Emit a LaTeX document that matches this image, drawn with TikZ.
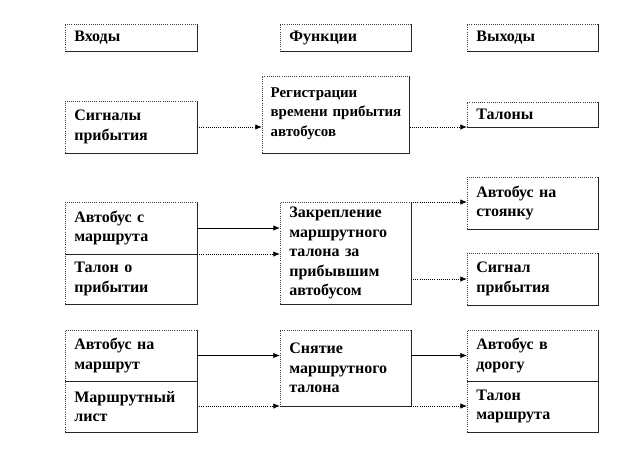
\documentclass[tikz,border=0pt]{standalone}
\usepackage{fontspec}
\setmainfont{Liberation Serif}
\usetikzlibrary{arrows.meta}
\begin{document}
\begin{tikzpicture}[x=0.75pt,y=-0.75pt,
  bx/.style 2 args={draw=black!75, densely dotted, line width=0.6pt, anchor=north west,
    inner xsep=7pt, inner ysep=0pt, outer sep=0pt, text width=#1, minimum height=#2,
    align=left, font=\bfseries\fontsize{12}{14.6}\selectfont},
  edge/.style={draw=black!85, solid, line width=0.6pt},
  sarr/.style={-{Latex[length=5pt,width=4pt]}, black, line width=0.6pt},
  darr/.style={sarr, densely dotted}]
\useasboundingbox (0,0) rectangle (635,457);
% headers
\node[bx={85pt}{20.25pt}] (inh) at (65,24) {Входы};
\node[bx={84.25pt}{20.25pt}] (fnh) at (280,24) {Функции};
\node[bx={84.25pt}{20.25pt}] (outh) at (467,24) {Выходы};
% row 1
\node[bx={97.75pt}{57.75pt}, inner xsep=6.5pt, font=\bfseries\fontsize{11.2}{14.6}\selectfont] (reg) at (262,76) {\\[-9pt]Регистрации\\\mbox{времени прибытия}\\автобусов};
\node[bx={85pt}{39pt}] (sig) at (65,101) {Сигналы прибытия};
\node[bx={84.25pt}{18.75pt}] (tal) at (467,102) {Талоны};
% row 2
\node[bx={85pt}{39pt}] (avm) at (65,202) {Автобус с маршрута};
\node[bx={85pt}{37.5pt}] (tpr) at (65,254) {Талон о прибытии};
\node[bx={84.25pt}{76.5pt}] (zak) at (280,202) {Закрепление маршрутного талона за прибывшим автобусом};
\node[bx={84.25pt}{39pt}] (sto) at (467,177) {Автобус на стоянку};
\node[bx={84.25pt}{39pt}] (sgn) at (467,253) {Сигнал прибытия};
% row 3
\node[bx={85pt}{38.25pt}] (anm) at (65,330) {Автобус на маршрут};
\node[bx={85pt}{38.25pt}] (mls) at (65,381) {Маршрутный лист};
\node[bx={84.25pt}{57pt}] (snt) at (280,330) {Снятие маршрутного талона\\[2pt]};
\node[bx={84.25pt}{38.25pt}] (adr) at (467,330) {Автобус в дорогу};
\node[bx={84.25pt}{38.25pt}] (tmr) at (467,381) {Талон маршрута};
% solid right and bottom edges
\foreach \n in {inh,fnh,outh,sig,reg,tal,avm,tpr,zak,sto,sgn,anm,mls,snt,adr,tmr}
  \draw[edge] (\n.north east) -- (\n.south east) -- (\n.south west);
% connectors
\draw[darr] (sig.east) -- (reg.west |- sig.east);
\draw[darr] (reg.east |- tal.south west) -- (tal.south west);
\draw[sarr] (avm.east) -- (zak.west |- avm.east);
\draw[darr] (tpr.north east) -- (zak.west |- tpr.north east);
\draw[darr] (zak.north east) -- (sto.west |- zak.north east);
\draw[darr] (zak.east |- sgn.west) -- (sgn.west);
\draw[sarr] (anm.east) -- (snt.west |- anm.east);
\draw[darr] (mls.east |- snt.south west) -- (snt.south west);
\draw[sarr] (snt.east |- adr.west) -- (adr.west);
\draw[darr] (snt.south east) -- (tmr.west |- snt.south east);
\end{tikzpicture}
\end{document}
